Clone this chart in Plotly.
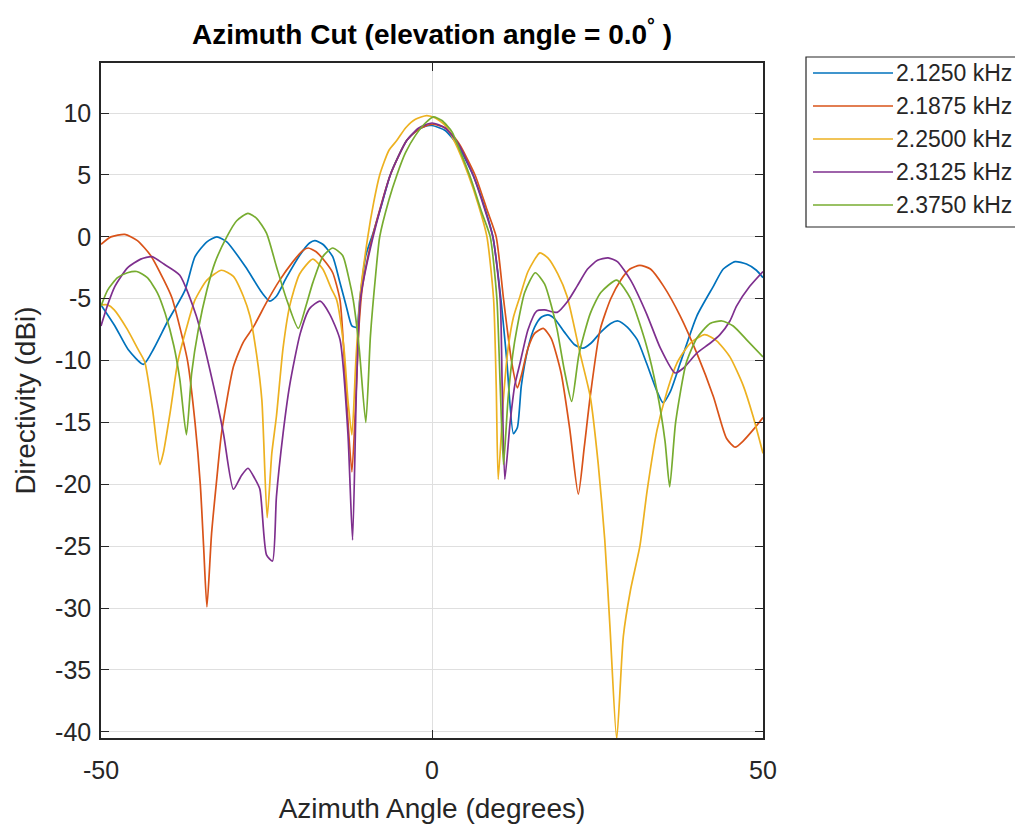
import plotly.graph_objects as go

# Data
freq_labels = ['2.1250 kHz', '2.1875 kHz', '2.2500 kHz', '2.3125 kHz', '2.3750 kHz']
colors = ['#0072BD', '#D95319', '#EDB120', '#7E2F8E', '#77AC30']

az_2125 = [-50, -47.9, -45.9, -43.6, -42, -40, -37.3, -35.8, -34, -32.5, -31, -28.2, -25.7, -24.5, -23.5,
           -22, -20, -18.5, -17.7, -16.5, -15, -14, -13, -12.1, -11.4, -10.9, -10, -8.9, -7.5, -6.3, -5,
           -3.8, -2.5, -1, 0, 2, 4, 6.2, 8, 9.2, 10.4, 11.3, 12.3, 12.9, 13.5, 14.5, 15.5, 16.5, 17.5,
           18.5, 20, 21.5, 22.8, 24, 25.5, 27, 28.1, 29.5, 31, 32.4, 34, 34.9, 36, 37.5, 40, 42.5, 44,
           45.8, 47.5, 49, 50]
dir_2125 = [-5.5, -7.2, -9.1, -10.3, -9.0, -6.9, -4.3, -1.6, -0.4, 0.0, -0.4, -2.4, -4.5, -5.2, -4.8,
            -3.3, -1.5, -0.5, -0.3, -0.6, -1.6, -3.5, -5.5, -7.2, -7.3, -5.0, -1.5, 0.3, 2.8, 5.0, 6.6,
            7.8, 8.5, 8.95, 9.0, 8.6, 7.3, 5.0, 2.3, 0.0, -5.0, -10.0, -15.9, -15.4, -12.0, -9.0, -7.3,
            -6.5, -6.3, -6.6, -7.7, -8.7, -9.0, -8.6, -7.7, -7.0, -6.8, -7.3, -8.3, -10.2, -12.5, -13.4,
            -12.5, -10.2, -6.4, -4.0, -2.6, -2.0, -2.2, -2.7, -3.3]

az_21875 = [-50, -48.5, -46.4, -44.5, -42.5, -40.5, -39.3, -38, -36.9, -35.8, -35, -34.5, -34, -33.3,
            -32.5, -31.8, -30, -28.5, -27, -25, -23, -21, -19.5, -18.7, -17.5, -16, -15, -13.9, -12.9,
            -12.1, -11.5, -11, -10.5, -9, -6.3, -3.8, -2, 0, 2, 4, 6.5, 8.3, 9.7, 10.8, 12, 12.9, 13.5,
            14.5, 15.5, 16.8, 18, 19.5, 20.8, 22.1, 23, 23.9, 25.4, 27, 28.5, 29.9, 31.4, 33, 35, 37.5,
            40, 42.5, 44.5, 45.8, 47, 48.5, 50]
dir_21875 = [-0.6, 0.0, 0.2, -0.3, -1.5, -3.5, -4.9, -7.5, -10.1, -15.0, -20.0, -25.0, -29.9, -24.0,
             -19.5, -15.9, -10.5, -8.5, -7.3, -5.3, -3.5, -2.0, -1.1, -0.9, -1.2, -2.1, -2.9, -5.1, -13.2,
             -19.0, -13.0, -7.0, -4.0, 0.0, 5.0, 7.8, 8.7, 9.1, 8.8, 7.6, 5.0, 2.2, 0.0, -5.0, -10.0,
             -12.2, -11.2, -9.0, -7.8, -7.4, -8.2, -11.0, -15.5, -20.8, -17.0, -12.9, -7.5, -5.0, -3.5,
             -2.6, -2.3, -2.6, -4.0, -6.4, -9.4, -12.9, -16.3, -17.0, -16.5, -15.6, -14.6]

az_2250 = [-50, -49, -48, -46, -44.5, -43.4, -42.2, -41.1, -40.6, -39.5, -38.4, -37, -35.8, -34, -31.8,
           -30, -28.5, -27.5, -26.5, -25.7, -24.9, -24.2, -23.5, -22.5, -21.5, -20, -18, -16.5, -15.2,
           -14.4, -13.3, -12.7, -12.1, -11.5, -10.8, -9.7, -8.8, -7.9, -6.5, -5.3, -4, -2.5, -0.8, 0.5,
           2, 3.5, 5.5, 7, 8.3, 9.3, 9.7, 10.0, 10.8, 11.5, 12.3, 13.3, 14.5, 16.3, 17.5, 19, 20.4, 22.4,
           23.9, 25.1, 26.1, 26.9, 27.9, 28.9, 30, 31.4, 32.5, 34, 35.5, 37, 39, 41.2, 43, 45, 47, 48.5,
           50]
dir_2250 = [-5.5, -5.5, -5.9, -7.5, -9.0, -10.1, -14.0, -18.4, -17.5, -14.0, -10.1, -7.2, -5.1, -3.5,
            -2.7, -3.2, -4.8, -6.4, -9.5, -13.2, -22.7, -17.5, -14.5, -9.0, -5.6, -3.0, -1.8, -2.6, -4.2,
            -5.1, -9.0, -13.2, -16.0, -10.0, -4.5, 0.0, 2.8, 5.0, 7.0, 7.8, 8.8, 9.5, 9.8, 9.6, 9.0, 7.6,
            5.0, 2.6, 0.0, -5.0, -12.0, -19.6, -13.0, -9.0, -6.5, -4.8, -2.8, -1.3, -1.7, -3.0, -4.8,
            -9.5, -12.9, -18.3, -24.5, -31.7, -40.6, -32.3, -28.5, -25.0, -20.5, -15.6, -12.5, -10.2,
            -8.6, -7.9, -8.4, -9.7, -12.0, -14.5, -17.5]

az_23125 = [-50, -49, -47.9, -46, -44, -42.3, -40.5, -38.1, -35.6, -33.1, -31.5, -30, -28.8, -27.8,
            -26.8, -26, -25, -24.1, -23.5, -22.5, -21.5, -19.9, -18.5, -16.9, -15.5, -13.9, -12.7, -12.0,
            -11.4, -10.8, -8.9, -6.3, -3.8, -2, 0, 2, 4, 6.2, 7.8, 9.2, 10.3, 10.6, 11, 11.8, 12.5, 13.3,
            14.5, 15.8, 17, 18.9, 20.5, 21.9, 23.5, 25, 26.6, 28, 30, 32.4, 34.5, 36.7, 38, 40, 42, 43.5,
            45, 46, 48, 50]
dir_23125 = [-7.2, -5.5, -4.0, -2.5, -1.8, -1.6, -2.2, -3.1, -6.4, -11.8, -15.9, -20.4, -19.3, -18.7,
             -19.5, -20.4, -25.7, -26.2, -21.0, -15.9, -12.0, -7.8, -5.8, -5.2, -6.2, -8.3, -15.9, -24.5,
             -12.0, -5.0, 0.0, 5.0, 7.8, 8.8, 9.2, 8.8, 7.5, 5.0, 2.5, 0.0, -5.0, -12.0, -19.6, -15.0,
             -12.0, -10.2, -7.5, -6.0, -5.9, -6.1, -5.2, -4.0, -2.6, -1.9, -1.7, -2.0, -3.5, -6.2, -9.0,
             -11.0, -10.6, -9.4, -8.6, -7.9, -6.8, -5.6, -4.0, -2.8]

az_2375 = [-50, -49, -47.5, -46, -44.6, -43, -41.5, -40.3, -39, -38.1, -37.1, -36.3, -35.3, -34, -32.8,
           -31, -29.5, -27.8, -26.5, -25, -23.5, -22, -20.2, -19, -18, -16.5, -15, -13.5, -12.5, -11.9,
           -11, -10.0, -9.3, -8.5, -7.9, -6.5, -5.3, -4, -2.5, -1, 0.2, 1.5, 3, 4.5, 6, 7.5, 8.8, 9.8,
           10.3, 10.8, 11.5, 12.2, 12.8, 14, 15.6, 17, 18, 18.9, 20, 21.1, 22.2, 23.9, 25.5, 27.9, 30,
           32.4, 34, 35.2, 35.9, 36.8, 38.4, 40, 42, 43.8, 45.5, 47.5, 50]
dir_2375 = [-5.6, -4.3, -3.3, -2.9, -2.8, -3.3, -4.5, -6.2, -8.8, -11.5, -16.0, -11.0, -7.5, -4.3, -2.1,
            0.0, 1.3, 1.9, 1.5, 0.3, -2.4, -5.0, -7.4, -5.5, -3.7, -1.6, -0.9, -1.5, -3.5, -5.1, -9.0,
            -15.0, -8.0, -3.0, 0.0, 3.0, 5.0, 6.8, 8.2, 9.2, 9.7, 9.4, 8.5, 6.6, 4.5, 2.0, 0.0, -5.0,
            -12.0, -18.4, -13.0, -9.5, -7.5, -4.5, -2.9, -3.8, -5.5, -7.5, -10.8, -13.3, -9.5, -6.2,
            -4.5, -3.5, -5.0, -8.8, -12.5, -16.5, -20.2, -15.0, -10.2, -8.2, -7.0, -6.8, -7.2, -8.3, -9.7]

series_x = [az_2125, az_21875, az_2250, az_23125, az_2375]
series_y = [dir_2125, dir_21875, dir_2250, dir_23125, dir_2375]

x_ticks = [-50, 0, 50]
y_ticks = [10, 5, 0, -5, -10, -15, -20, -25, -30, -35, -40]

font_family = 'Liberation Sans, Arial, Helvetica, sans-serif'
axis_col = '#262626'

W, H = 1023, 825
# the page body has an 8px margin, so figure coords = screen coords - 8
OFF = 8
# plot area in screen pixels (from the reference)
L, R, T, B = 101, 763, 63, 738

fig = go.Figure(
    layout=go.Layout(
        template='plotly_white',
        width=W,
        height=H,
        ))

for xs, ys, name, col in zip(series_x, series_y, freq_labels, colors):
    fig.add_trace(go.Scatter(x=xs, y=ys, name=name, mode='lines',
                             line=dict(color=col, width=1.7, shape='spline', smoothing=0.6)))

def px2paper(px, py):
    return (px - L) / (R - L), (B - py) / (B - T)

# legend drawn by hand (long sample lines, box clipped at right edge)
x0, y0 = px2paper(806, 57)
x1, y1 = px2paper(1060, 227)
fig.add_shape(type='rect', xref='paper', yref='paper', x0=x0, y0=y1, x1=x1, y1=y0,
              line=dict(color=axis_col, width=1.2), fillcolor='white', layer='above')
for i, (name, col) in enumerate(zip(freq_labels, colors)):
    row_py = 73 + i * 33
    lx0, ly = px2paper(813, row_py)
    lx1, _ = px2paper(893, row_py)
    tx, _ = px2paper(896, row_py)
    fig.add_shape(type='line', xref='paper', yref='paper', x0=lx0, x1=lx1, y0=ly, y1=ly,
                  line=dict(color=col, width=1.6), layer='above')
    fig.add_annotation(xref='paper', yref='paper', x=tx, y=ly, text=name, showarrow=False,
                       xanchor='left', yanchor='middle', xshift=-2,
                       font=dict(family=font_family, size=23, color=axis_col))

axis_common = dict(showline=True, linecolor=axis_col, linewidth=1.5, mirror='ticks',
                   ticks='inside', ticklen=8, tickwidth=1.2, tickcolor=axis_col,
                   showgrid=True, gridcolor='#dfdfdf', gridwidth=1, zeroline=False)

fig.update_xaxes(range=[-50, 50], tickvals=x_ticks, ticktext=[str(v) for v in x_ticks],
                 ticklabelstandoff=9,
                 tickfont=dict(family=font_family, size=25, color=axis_col),
                 title=dict(text='Azimuth Angle (degrees)', standoff=16,
                            font=dict(family=font_family, size=28, color=axis_col)),
                 **axis_common)
fig.update_yaxes(range=[-40.5, 14.05], tickvals=y_ticks, ticktext=[str(v) for v in y_ticks],
                 ticklabelstandoff=3,
                 tickfont=dict(family=font_family, size=25, color=axis_col),
                 title=dict(text='Directivity (dBi)', standoff=11,
                            font=dict(family=font_family, size=28, color=axis_col)),
                 **axis_common)

fig.update_layout(
    title=dict(text='<b>Azimuth Cut (elevation angle = 0.0<sup>°</sup> )</b>',
               x=((L + R) / 2 - OFF) / W, xanchor='center', xref='container',
               y=1 - (34 - OFF) / H, yanchor='middle', yref='container',
               font=dict(family=font_family, size=28, color='black')),
    margin=dict(l=L - OFF, r=W - (R - OFF), t=T - OFF, b=H - (B - OFF)),
    showlegend=False,
    hovermode=False,
    plot_bgcolor='white',
    paper_bgcolor='white',
)

fig.write_html('out.html')
